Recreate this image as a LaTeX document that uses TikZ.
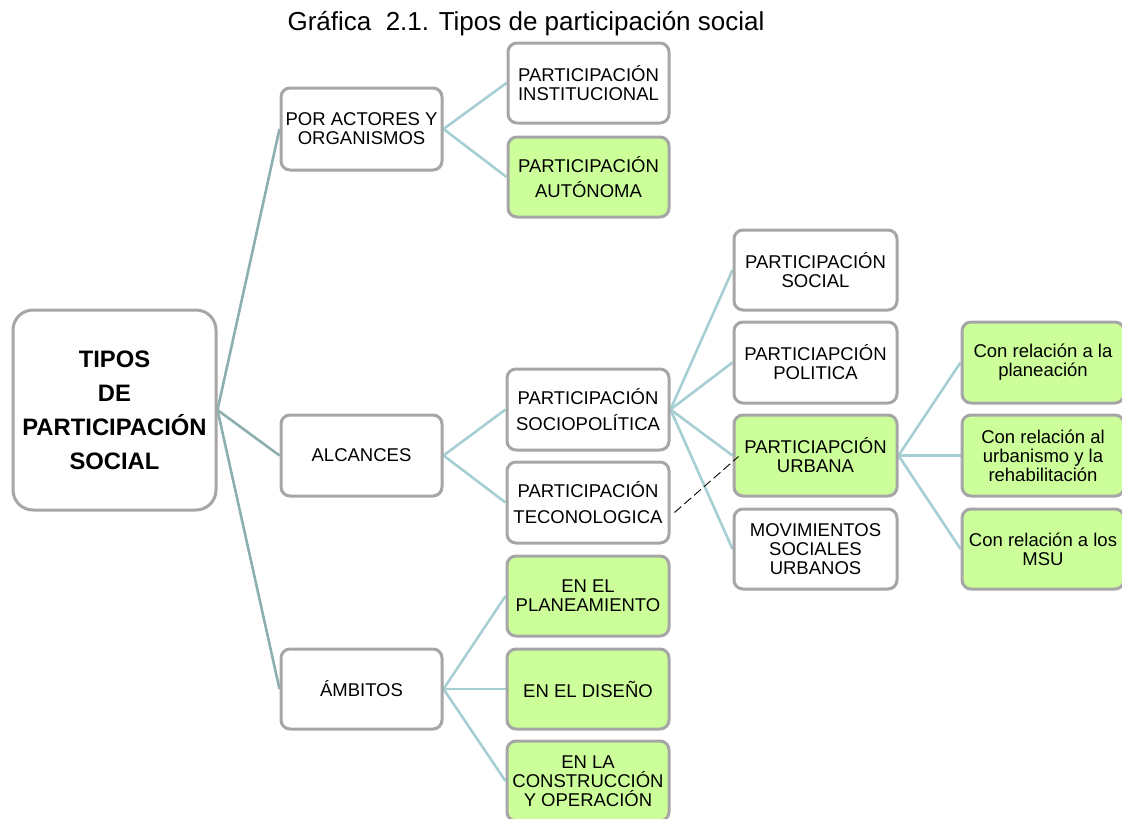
\documentclass[tikz,border=0pt]{standalone}
\usepackage{fontspec}
\setmainfont{Liberation Sans}
\usetikzlibrary{calc,backgrounds}
\definecolor{boxgray}{HTML}{A6A6A6}
\definecolor{boxgreen}{HTML}{CCFF99}
\definecolor{rootline}{HTML}{8DAFB0}
\definecolor{branchline}{HTML}{A5CFD2}
\tikzset{
  box/.style={draw=boxgray, line width=3pt, rounded corners=9pt, fill=white,
    inner sep=0pt, align=center, text=black,
    font=\fontsize{18.5}{19}\selectfont},
  greenbox/.style={box, fill=boxgreen},
  widelines/.style={font=\fontsize{18.5}{25.5}\selectfont},
  rootbox/.style={box, rounded corners=20pt, font=\bfseries\fontsize{23.8}{34}\selectfont},
  rootlink/.style={draw=rootline, line width=2.6pt},
  link/.style={draw=branchline, line width=2.6pt},
}
\begin{document}
\begin{tikzpicture}[x=1pt, y=-1pt]
\useasboundingbox (0,0) rectangle (1122,819);

\node[font=\fontsize{26}{28}\selectfont] (title) at (526,24) {Gráfica\ \ 2.1. Tipos de participación social};

% root
\node[rootbox, minimum width=203pt, minimum height=200pt] (root) at (114.5,410) {TIPOS\\DE\\PARTICIPACIÓN\\SOCIAL};

% second level
\node[box, minimum width=161pt, minimum height=82pt] (por) at (361.5,129) {POR ACTORES Y\\ORGANISMOS};
\node[box, minimum width=161pt, minimum height=81pt] (alc) at (361.5,455.5) {ALCANCES};
\node[box, minimum width=161pt, minimum height=80pt] (amb) at (361.5,689) {ÁMBITOS};

% third level
\node[box, minimum width=161pt, minimum height=80pt] (inst) at (588.5,83) {PARTICIPACIÓN\\INSTITUCIONAL};
\node[greenbox, widelines, minimum width=161pt, minimum height=80pt] (auto) at (588.5,177) {PARTICIPACIÓN\\AUTÓNOMA};
\node[box, widelines, minimum width=162pt, minimum height=81pt] (socio) at (588,409.5) {PARTICIPACIÓN\\SOCIOPOLÍTICA};
\node[box, widelines, minimum width=162pt, minimum height=81pt] (tec) at (588,502.5) {PARTICIPACIÓN\\TECONOLOGICA};
\node[greenbox, minimum width=162pt, minimum height=80pt] (plan) at (588,596) {EN EL\\PLANEAMIENTO};
\node[greenbox, minimum width=162pt, minimum height=80pt] (dis) at (588,689) {EN EL DISEÑO};
\node[greenbox, minimum width=162pt, minimum height=80pt] (cons) at (588,781) {EN LA\\CONSTRUCCIÓN\\Y OPERACIÓN};

% fourth level
\node[box, minimum width=163pt, minimum height=80pt] (soc) at (815.5,270) {PARTICIPACIÓN\\SOCIAL};
\node[box, minimum width=163pt, minimum height=81pt] (pol) at (815.5,362.5) {PARTICIAPCIÓN\\POLITICA};
\node[greenbox, minimum width=163pt, minimum height=81pt] (urb) at (815.5,455.5) {PARTICIAPCIÓN\\URBANA};
\node[box, minimum width=163pt, minimum height=80pt] (mov) at (815.5,549) {MOVIMIENTOS\\SOCIALES\\URBANOS};

% fifth level
\node[greenbox, minimum width=162pt, minimum height=81pt] (r1) at (1043,362.5) {Con relación a la\\planeación};
\node[greenbox, minimum width=162pt, minimum height=81pt] (r2) at (1043,455.5) {Con relación al\\urbanismo y la\\rehabilitación};
\node[greenbox, minimum width=162pt, minimum height=80pt] (r3) at (1043,549) {Con relación a los\\MSU};

% tree links, behind the boxes
\begin{scope}[on background layer]
\draw[rootlink] (root.east) -- (por.west);
\draw[rootlink] (root.east) -- (alc.west);
\draw[rootlink] (root.east) -- (amb.west);

\draw[link] (por.east) -- (inst.west);
\draw[link] (por.east) -- (auto.west);
\draw[link] (alc.east) -- (socio.west);
\draw[link] (alc.east) -- (tec.west);
\draw[link] (amb.east) -- (plan.west);
\draw[link] (amb.east) -- (dis.west);
\draw[link] (amb.east) -- (cons.west);

\draw[link] (socio.east) -- (soc.west);
\draw[link] (socio.east) -- (pol.west);
\draw[link] (socio.east) -- (urb.west);
\draw[link] (socio.east) -- (mov.west);

\draw[link] (urb.east) -- (r1.west);
\draw[link] (urb.east) -- (r2.west);
\draw[link] (urb.east) -- (r3.west);
\end{scope}

% dashed cross reference
\draw[black, line width=0.9pt, dash pattern=on 9pt off 4pt]
  ($(tec.east)+(4,10)$) -- ($(urb.west)+(6,1)$);
\end{tikzpicture}
\end{document}
